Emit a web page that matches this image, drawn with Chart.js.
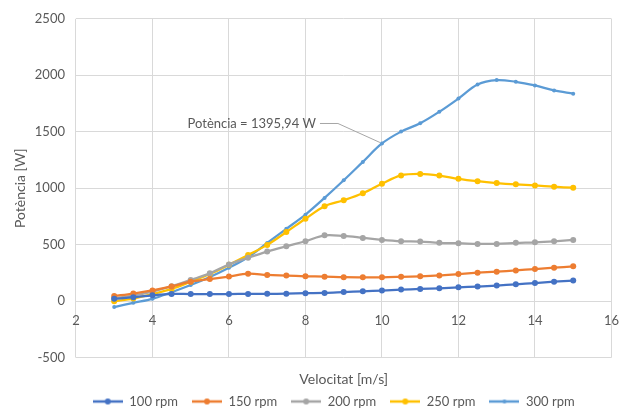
<!DOCTYPE html>
<html><head><meta charset="utf-8">
<script src="https://cdn.jsdelivr.net/npm/chart.js@4.4.1/dist/chart.umd.min.js"></script>
<style>html,body{margin:0;padding:0;background:#fff;}#wrap{width:631px;height:410px;}</style>
</head><body><div id="wrap"><canvas id="c" width="631" height="410"></canvas></div>
<script>
const velocitat = [3,3.5,4,4.5,5,5.5,6,6.5,7,7.5,8,8.5,9,9.5,10,10.5,11,11.5,12,12.5,13,13.5,14,14.5,15];
const p100 = [20,35,52,64,63,63,63,64,65,66,70,73,80,87,94,102,108,114,122,129,138,149,160,172,182];
const p150 = [45,67,95,130,172,195,218,243,232,226,220,217,212,211,211,215,220,228,240,252,261,272,284,296,308];
const p200 = [26,50,85,132,188,246,325,384,439,486,530,583,577,560,542,530,527,516,513,507,507,516,521,530,542];
const p250 = [0,23,62,108,172,240,322,408,498,612,729,841,893,955,1040,1113,1126,1112,1083,1062,1046,1034,1025,1013,1004];
const p300 = [-53,-15,20,79,143,214,296,389,515,640,766,914,1070,1233,1395.94,1501,1575,1677,1794,1918,1957,1942,1910,1866,1837];
const seriesNames = ['100 rpm','150 rpm','200 rpm','250 rpm','300 rpm'];
const seriesValues = [p100,p150,p200,p250,p300];
const seriesColors = ['#4472C4','#ED7D31','#A5A5A5','#FFC000','#5B9BD5'];
const markerRadius = [3,3,3,3,2];
const yTicks = [-500,0,500,1000,1500,2000,2500];
const xTicks = [2,4,6,8,10,12,14,16];
const annotatedSeries = 4, annotatedIndex = 14;
const FONT = 'Lato';
const TXT = '#595959';
const GRID = '#d9d9d9';

function legendImage(color, r) {
  const c = document.createElement('canvas');
  c.width = 30; c.height = 10;
  const g = c.getContext('2d');
  g.strokeStyle = color; g.lineWidth = 2.5;
  g.beginPath(); g.moveTo(0,5); g.lineTo(30,5); g.stroke();
  g.fillStyle = color; g.beginPath(); g.arc(15,5,r,0,Math.PI*2); g.fill();
  return c;
}

const datasets = seriesNames.map((name,i)=>({
  label: name,
  data: velocitat.map((v,j)=>({x:v, y:seriesValues[i][j]})),
  borderColor: seriesColors[i],
  backgroundColor: seriesColors[i],
  borderWidth: 2.25,
  pointRadius: markerRadius[i],
  pointHoverRadius: markerRadius[i],
  pointBorderWidth: 0,
  tension: 0.35,
  fill: false
}));

const labelPlugin = {
  id: 'calloutLabel',
  afterDatasetsDraw(chart) {
    const pt = chart.getDatasetMeta(annotatedSeries).data[annotatedIndex];
    const v = seriesValues[annotatedSeries][annotatedIndex];
    const text = 'Potència = ' + v.toFixed(2).replace('.', ',') + ' W';
    const ctx = chart.ctx;
    ctx.save();
    ctx.font = '13px ' + FONT;
    ctx.fillStyle = TXT;
    ctx.textAlign = 'right';
    ctx.textBaseline = 'middle';
    const tx = pt.x - 66, ty = pt.y - 20;
    ctx.fillText(text, tx, ty);
    ctx.strokeStyle = '#a6a6a6';
    ctx.lineWidth = 1;
    ctx.beginPath();
    ctx.moveTo(tx + 4, ty);
    ctx.lineTo(tx + 22, ty);
    ctx.lineTo(pt.x - 2, pt.y - 1);
    ctx.stroke();
    ctx.restore();
  }
};

const legendShift = {
  id: 'legendShift',
  afterLayout(chart) {
    const lg = chart.legend;
    if (lg) { lg.left -= 10; lg.right -= 10; }
  }
};

new Chart(document.getElementById('c'), {
  type: 'line',
  data: { datasets },
  plugins: [labelPlugin, legendShift],
  options: {
    responsive: false,
    animation: false,
    devicePixelRatio: 1,
    layout: { padding: { top: 5, right: 14, left: 4, bottom: -8 } },
    scales: {
      x: {
        type: 'linear',
        min: 2, max: 16,
        position: { y: 0 },
        afterBuildTicks: (s) => { s.ticks = xTicks.map(v => ({ value: v })); },
        ticks: { color: TXT, font: { family: FONT, size: 13 }, padding: 12, callback: v => String(v) },
        grid: { color: GRID, drawTicks: false, lineWidth: 1 },
        border: { color: GRID }
      },
      y: {
        type: 'linear',
        min: -500, max: 2500,
        afterBuildTicks: (s) => { s.ticks = yTicks.map(v => ({ value: v })); },
        ticks: { color: TXT, font: { family: FONT, size: 13 }, padding: 11, callback: v => String(v) },
        grid: { color: GRID, drawTicks: false, lineWidth: 1 },
        border: { display: false },
        title: { display: true, text: 'Potència [W]', color: TXT, font: { family: FONT, size: 14 }, padding: { top: 8, bottom: -5 } }
      }
    },
    plugins: {
      tooltip: { enabled: false },
      title: {
        display: true, text: 'Velocitat [m/s]', position: 'bottom', fullSize: false, weight: 500,
        color: TXT, font: { family: FONT, size: 14, weight: 'normal' }, padding: { top: 13.6, bottom: -7 }
      },
      legend: {
        position: 'bottom',
        fullSize: false,
        labels: {
          usePointStyle: true,
          pointStyleWidth: 30,
          color: TXT,
          font: { family: FONT, size: 13 },
          padding: 14,
          generateLabels: (chart) => {
            const items = Chart.defaults.plugins.legend.labels.generateLabels(chart);
            items.forEach((it, i) => { it.pointStyle = legendImage(seriesColors[i], markerRadius[i]); });
            return items;
          }
        }
      }
    }
  }
});
</script></body></html>
